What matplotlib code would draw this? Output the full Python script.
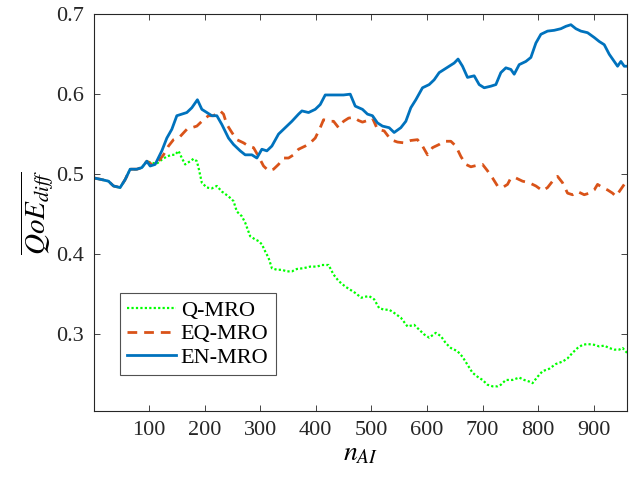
import matplotlib

matplotlib.use('Agg')

import matplotlib.pyplot as plt

# tramo comun a las tres curvas (antes de separarse, n_AI < ~100)
n_comun = [1, 15, 27, 36, 48, 57, 66, 78, 87, 96]
qoe_comun = [0.495, 0.493, 0.491, 0.485, 0.483, 0.493, 0.506, 0.506, 0.508, 0.516]

n_en = [102, 111, 123, 132, 141, 150, 159, 168, 177, 187, 195, 204, 213, 222, 231,
        243, 252, 264, 273, 285, 294, 303, 312, 321, 333, 345, 357, 369, 375, 387,
        399, 408, 417, 435, 450, 462, 471, 484, 493, 502, 511, 520, 532, 541, 553,
        562, 571, 580, 592, 604, 613, 622, 631, 640, 649, 656, 664, 673, 685, 694,
        703, 715, 724, 733, 742, 751, 757, 766, 778, 787, 796, 805, 817, 829, 841,
        850, 859, 868, 877, 889, 901, 910, 919, 928, 937, 943, 949, 955, 960]
qoe_en = [0.510, 0.512, 0.529, 0.545, 0.556, 0.573, 0.575, 0.577, 0.583, 0.593,
          0.581, 0.577, 0.573, 0.573, 0.562, 0.545, 0.537, 0.529, 0.524, 0.524,
          0.520, 0.531, 0.529, 0.535, 0.550, 0.558, 0.566, 0.575, 0.579, 0.577,
          0.581, 0.587, 0.599, 0.599, 0.599, 0.600, 0.585, 0.581, 0.575, 0.573,
          0.564, 0.560, 0.558, 0.552, 0.558, 0.566, 0.583, 0.593, 0.608, 0.612,
          0.618, 0.627, 0.631, 0.635, 0.639, 0.644, 0.635, 0.621, 0.623, 0.612,
          0.608, 0.610, 0.612, 0.627, 0.633, 0.631, 0.625, 0.637, 0.641, 0.646,
          0.664, 0.675, 0.679, 0.680, 0.682, 0.685, 0.687, 0.682, 0.679, 0.677,
          0.671, 0.666, 0.662, 0.650, 0.641, 0.635, 0.641, 0.635, 0.635]

n_eq = [105, 117, 126, 135, 144, 156, 168, 177, 186, 198, 207, 216, 228, 234, 240,
        249, 258, 270, 279, 288, 297, 306, 315, 324, 333, 342, 351, 360, 369, 381,
        390, 399, 408, 414, 423, 432, 441, 450, 459, 468, 477, 484, 493, 502, 511,
        523, 535, 547, 559, 571, 583, 592, 601, 610, 622, 631, 643, 652, 661, 670,
        679, 691, 700, 709, 718, 727, 736, 745, 751, 760, 772, 784, 796, 808, 817,
        826, 835, 844, 853, 862, 871, 883, 892, 901, 907, 916, 925, 934, 940, 946,
        955, 960]
qoe_eq = [0.512, 0.516, 0.524, 0.535, 0.543, 0.547, 0.556, 0.558, 0.560, 0.568,
          0.573, 0.573, 0.579, 0.575, 0.562, 0.552, 0.543, 0.539, 0.535, 0.533,
          0.522, 0.510, 0.504, 0.506, 0.512, 0.520, 0.520, 0.524, 0.531, 0.535,
          0.539, 0.545, 0.558, 0.568, 0.566, 0.566, 0.558, 0.566, 0.570, 0.571,
          0.567, 0.565, 0.567, 0.570, 0.556, 0.554, 0.543, 0.540, 0.539, 0.542,
          0.543, 0.535, 0.524, 0.533, 0.537, 0.541, 0.541, 0.535, 0.522, 0.512,
          0.509, 0.511, 0.512, 0.504, 0.495, 0.485, 0.483, 0.487, 0.495, 0.495,
          0.491, 0.489, 0.485, 0.479, 0.483, 0.491, 0.497, 0.489, 0.476, 0.474,
          0.478, 0.474, 0.476, 0.480, 0.487, 0.483, 0.480, 0.476, 0.472, 0.478,
          0.487, 0.487]

n_q = [105, 114, 123, 132, 141, 147, 153, 159, 165, 174, 180, 186, 189, 195, 204,
       213, 222, 231, 243, 252, 258, 267, 273, 282, 291, 297, 303, 309, 315, 321,
       330, 339, 348, 357, 366, 378, 390, 402, 411, 423, 432, 441, 453, 462, 471,
       482, 487, 496, 505, 514, 523, 532, 541, 553, 565, 577, 586, 595, 604, 616,
       625, 634, 643, 655, 664, 673, 682, 691, 700, 709, 718, 727, 733, 742, 754,
       766, 775, 784, 790, 799, 808, 820, 832, 844, 853, 862, 871, 880, 889, 901,
       910, 919, 928, 937, 946, 952, 960]
qoe_q = [0.514, 0.513, 0.518, 0.522, 0.524, 0.524, 0.529, 0.520, 0.512, 0.516,
         0.519, 0.516, 0.508, 0.489, 0.483, 0.482, 0.485, 0.478, 0.472, 0.466,
         0.453, 0.447, 0.439, 0.422, 0.418, 0.416, 0.412, 0.403, 0.395, 0.382,
         0.380, 0.380, 0.378, 0.378, 0.381, 0.382, 0.384, 0.384, 0.386, 0.386,
         0.374, 0.366, 0.359, 0.355, 0.351, 0.345, 0.346, 0.347, 0.343, 0.332,
         0.330, 0.330, 0.326, 0.320, 0.309, 0.311, 0.305, 0.299, 0.295, 0.301,
         0.297, 0.288, 0.282, 0.278, 0.271, 0.261, 0.251, 0.246, 0.242, 0.236,
         0.234, 0.234, 0.236, 0.242, 0.242, 0.245, 0.242, 0.240, 0.238, 0.246,
         0.253, 0.256, 0.262, 0.265, 0.269, 0.276, 0.282, 0.286, 0.287, 0.286,
         0.284, 0.285, 0.282, 0.280, 0.280, 0.282, 0.276]

x_ticks = [100, 200, 300, 400, 500, 600, 700, 800, 900]
y_ticks = [0.3, 0.4, 0.5, 0.6, 0.7]

plt.rcParams['font.family'] = 'Liberation Serif'
plt.rcParams['mathtext.fontset'] = 'stix'

fig = plt.figure(figsize=(6.31, 4.78), dpi=100)
ax = fig.add_axes([0.149, 0.140, 0.8447, 0.830])

ax.plot(n_comun + n_q, qoe_comun + qoe_q, color=(0.0, 1.0, 0.0), linestyle=(0, (1, 1)),
        linewidth=1.6, label='Q-MRO')
ax.plot(n_comun + n_eq, qoe_comun + qoe_eq, color='#D95319', linestyle=(0, (3.5, 2.5)),
        linewidth=2.0, label='EQ-MRO')
ax.plot(n_comun + n_en, qoe_comun + qoe_en, color='#0072BD', linestyle='-',
        linewidth=2.0, label='EN-MRO')

ax.set_xlim(1, 960)
ax.set_ylim(0.203, 0.7)
ax.set_xticks(x_ticks)
ax.set_yticks(y_ticks)
ax.set_yticklabels([f'{v:.1f}' for v in y_ticks])
ax.tick_params(direction='in', top=True, right=True, labelsize=16, length=4,
               width=0.6, colors='#262626', pad=7)
for sp in ax.spines.values():
    sp.set_color('#262626')
    sp.set_linewidth(0.8)

ax.set_xlabel(r'$n_{AI}$', fontsize=20, labelpad=1)
ax.set_ylabel(r'$\overline{QoE_{diff}}$', fontsize=21, labelpad=0)

leg = ax.legend(loc='lower left', bbox_to_anchor=(0.048, 0.09), fontsize=16,
                frameon=True, fancybox=False, edgecolor='#262626', handlelength=2.2,
                handletextpad=0.2, borderpad=0.35, labelspacing=0.12, borderaxespad=0)
leg.get_frame().set_linewidth(0.8)

fig.savefig('out.png', dpi=100)
